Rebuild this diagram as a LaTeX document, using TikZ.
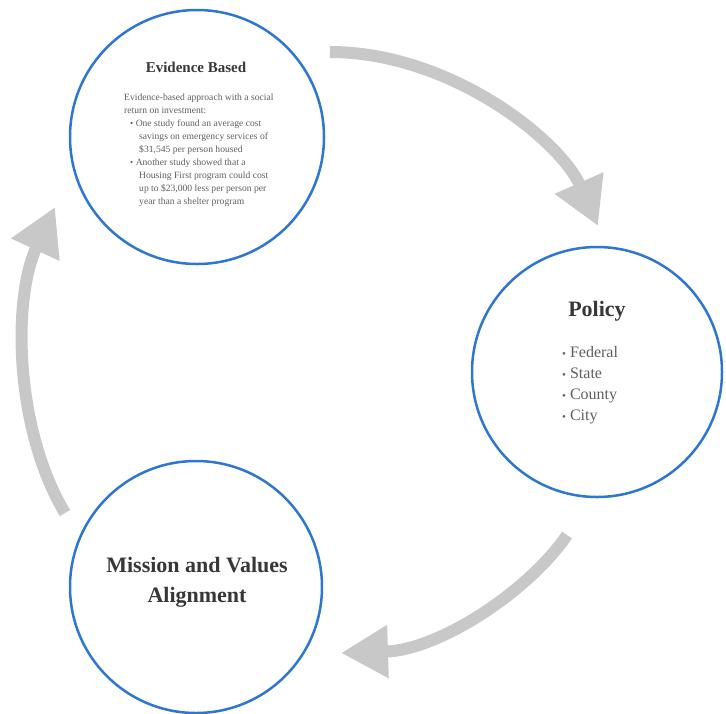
\documentclass[tikz,border=0pt]{standalone}
\usepackage{fontspec}
\setmainfont{Liberation Serif}
\usetikzlibrary{arrows.meta}
\definecolor{ringblue}{RGB}{45,118,210}
\definecolor{flowgray}{RGB}{200,200,200}
\definecolor{inkgray}{RGB}{55,55,55}
\definecolor{bodygray}{RGB}{95,95,95}
\newcommand{\dotitem}[1]{{\fontsize{#1}{#1}\selectfont\textbullet}\ }
\tikzset{
	ring/.style={circle, draw=ringblue, line width=2.5pt, minimum size=#1, inner sep=0pt},
	flow/.style={draw=flowgray, line width=12pt, -{Triangle[length=47pt,width=50pt]}},
	cycletitle/.style 2 args={font=\bfseries\fontsize{#1}{#2}\selectfont, text=inkgray, inner sep=0pt},
	cyclebody/.style={anchor=north west, inner sep=0pt, align=left, text=bodygray}
}

\begin{document}
\begin{tikzpicture}[x=1pt,y=-1pt]
	\useasboundingbox (0,0) rectangle (726,713);
	% the three circles
	\node[ring=254pt] (ev) at (197,137){};
	\node[ring=250pt] (pol) at (597,372){};
	\node[ring=252pt] (mis) at (196,587){};
	% evidence
	\node[cycletitle={15}{18}] (evtitle) at (196,67){Evidence Based};
	\node[cyclebody, font=\fontsize{9.6}{13}\selectfont] (evbody) at (124,94){Evidence-based approach with a social\\
		return on investment:\\
		\hspace*{6pt}\dotitem{9}One study found an average cost\\
		\hspace*{15pt}savings on emergency services of\\
		\hspace*{15pt}\$31,545 per person housed\\
		\hspace*{6pt}\dotitem{9}Another study showed that a\\
		\hspace*{15pt}Housing First program could cost\\
		\hspace*{15pt}up to \$23,000 less per person per\\
		\hspace*{15pt}year than a shelter program};
	% policy
	\node[cycletitle={22}{26}] (poltitle) at (597,311){Policy};
	\node[cyclebody, font=\fontsize{16}{21}\selectfont] (polbody) at (562,346){\dotitem{11}Federal\\
		\dotitem{11}State\\
		\dotitem{11}County\\
		\dotitem{11}City};
	% mission
	\node[cycletitle={22}{30}, align=center] (mistitle) at (197,582){Mission and Values\\ Alignment};
	% arrows
	\coordinate (evout) at (330,52);
	\coordinate (polin) at (598,226);
	\coordinate (polout) at (567,535);
	\coordinate (misin) at (341,653);
	\coordinate (misout) at (65,513);
	\coordinate (evin) at (55,207);
	\draw[flow] (evout) .. controls (450,52) and (560,140) .. (polin);
	\draw[flow] (polout) .. controls (530,590) and (440,650) .. (misin);
	\draw[flow] (misout) .. controls (15,430) and (12,300) .. (evin);
\end{tikzpicture}
\end{document}
